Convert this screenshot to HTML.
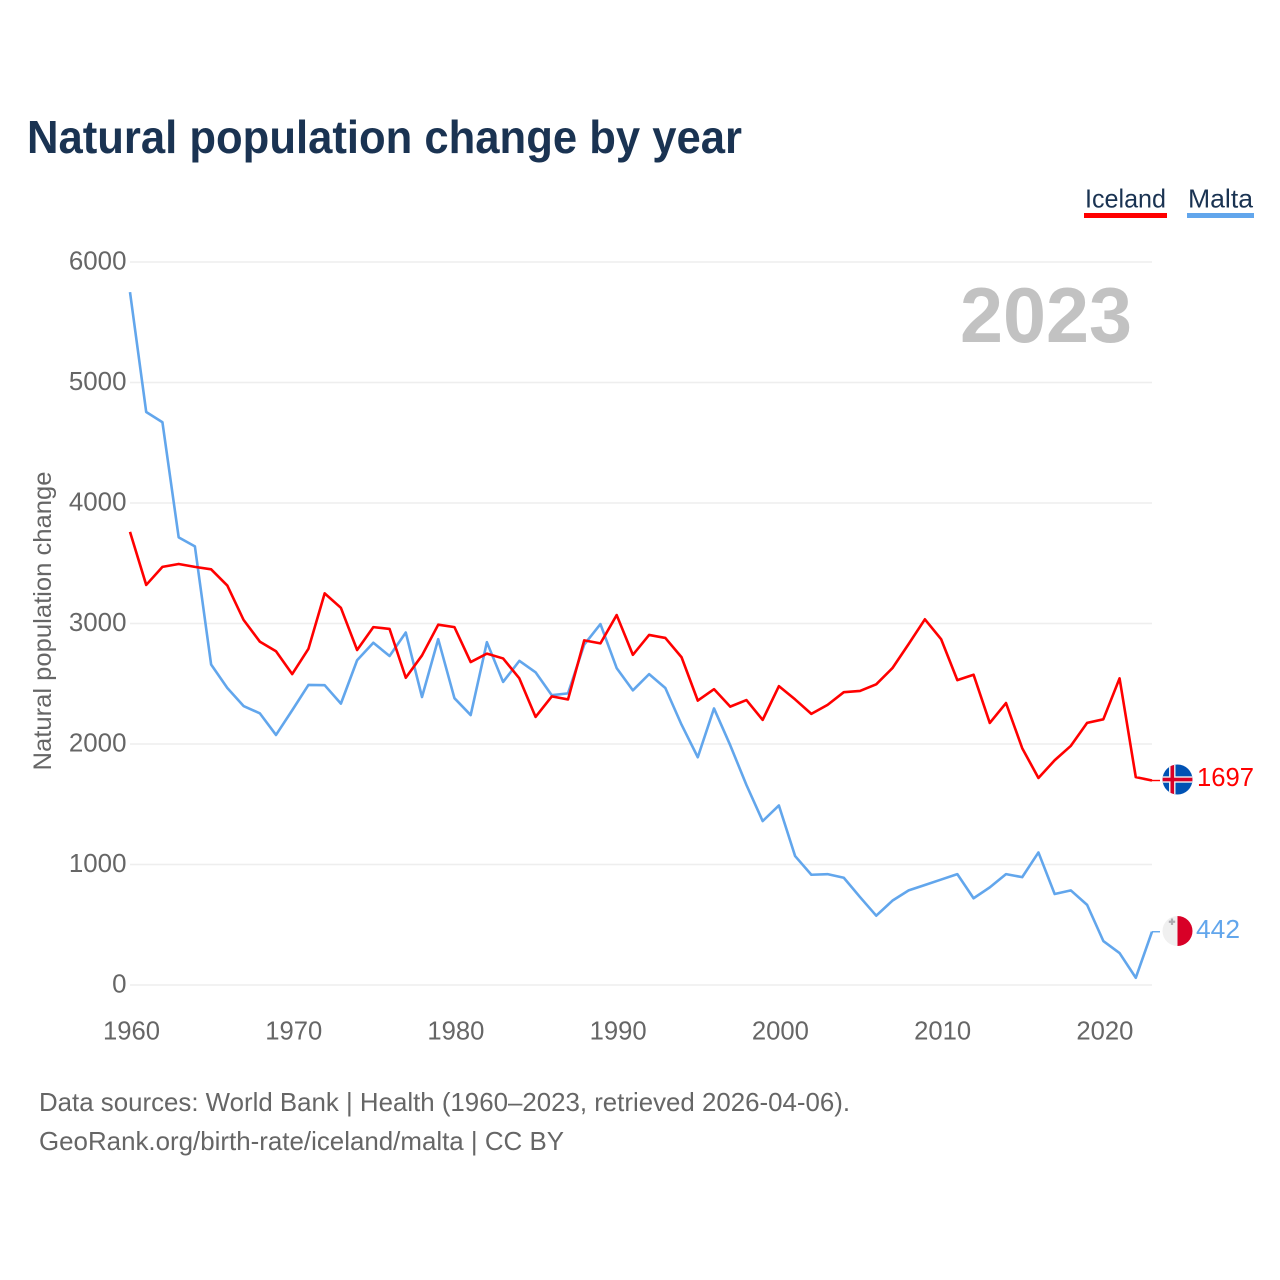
<!DOCTYPE html>
<html lang="en">
<head>
<meta charset="utf-8">
<title>Natural population change by year</title>
<style>
html,body{margin:0;padding:0;background:#fff;width:1280px;height:1280px;overflow:hidden}
svg{display:block;font-family:"Liberation Sans",sans-serif}
</style>
</head>
<body>
<svg id="chart" xmlns="http://www.w3.org/2000/svg" width="1280" height="1280" viewBox="0 0 1280 1280">
  <defs>
    <clipPath id="clip-flag-is"><circle cx="0" cy="0" r="15"/></clipPath>
    <clipPath id="clip-flag-mt"><circle cx="0" cy="0" r="15"/></clipPath>
  </defs>
  <rect width="1280" height="1280" fill="#fff"/>
  <text x="27" y="153" font-size="46" font-weight="700" fill="#1a3352" textLength="715" lengthAdjust="spacingAndGlyphs">Natural population change by year</text>

  <g>
    <g>
      <text x="1085" y="207.5" font-size="26" fill="#1a3352" textLength="81" lengthAdjust="spacingAndGlyphs">Iceland</text>
      <rect x="1084" y="213" width="83" height="5" fill="#ff0000"/>
    </g>
    <g>
      <text x="1188" y="207.5" font-size="26" fill="#1a3352" textLength="65" lengthAdjust="spacingAndGlyphs">Malta</text>
      <rect x="1187" y="213" width="67" height="5" fill="#62a6ec"/>
    </g>
  </g>

  <g id="grid"></g>
  <g id="y-ticks"></g>
  <g id="x-ticks"></g>

  <text x="960" y="342" font-size="78" font-weight="700" fill="#c2c2c2" textLength="172" lengthAdjust="spacingAndGlyphs">2023</text>
  <text transform="translate(51 621) rotate(-90)" text-anchor="middle" font-size="25" fill="#666" textLength="299" lengthAdjust="spacingAndGlyphs">Natural population change</text>

  <g id="series"></g>

  <g id="flag-iceland">
    <g clip-path="url(#clip-flag-is)">
      <rect x="-15" y="-15" width="30" height="30" fill="#0052b4"/>
      <rect x="-8.5" y="-15" width="6.5" height="30" fill="#f0f0f0"/>
      <rect x="-15" y="-3.2" width="30" height="6.4" fill="#f0f0f0"/>
      <rect x="-7" y="-15" width="3.6" height="30" fill="#d80027"/>
      <rect x="-15" y="-1.8" width="30" height="3.6" fill="#d80027"/>
    </g>
  </g>
  <g id="flag-malta">
    <g clip-path="url(#clip-flag-mt)">
      <rect x="-15" y="-15" width="15" height="30" fill="#f0f0f0"/>
      <rect x="0" y="-15" width="15" height="30" fill="#d80027"/>
      <rect x="-6.6" y="-12.5" width="2.2" height="6.4" fill="#acabb1"/>
      <rect x="-8.7" y="-10.4" width="6.4" height="2.2" fill="#acabb1"/>
    </g>
  </g>

  <text id="value-iceland" x="1197" font-size="25.5" fill="#ff0000" textLength="57" lengthAdjust="spacingAndGlyphs"></text>
  <text id="value-malta" x="1196" font-size="25.5" fill="#62a6ec" textLength="44" lengthAdjust="spacingAndGlyphs"></text>

  <text x="39" y="1111" font-size="26" fill="#666" textLength="811" lengthAdjust="spacingAndGlyphs">Data sources: World Bank | Health (1960–2023, retrieved 2026-04-06).</text>
  <text x="39" y="1150" font-size="26" fill="#666" textLength="525" lengthAdjust="spacingAndGlyphs">GeoRank.org/birth-rate/iceland/malta | CC BY</text>
</svg>

<script>
const firstYear = 1960;
const xTickYears = [1960, 1970, 1980, 1990, 2000, 2010, 2020];
const yTickValues = [0, 1000, 2000, 3000, 4000, 5000, 6000];
const icelandValues = [3760,3320,3470,3494,3470,3450,3315,3030,2850,2770,2580,2790,3250,3130,2780,2970,2955,2550,2735,2990,2970,2680,2750,2710,2545,2225,2395,2370,2860,2835,3070,2740,2905,2880,2720,2360,2455,2310,2365,2200,2480,2370,2250,2325,2430,2440,2495,2630,2830,3035,2870,2530,2575,2175,2340,1965,1718,1865,1985,2175,2205,2545,1725,1697];
const maltaValues = [5750,4755,4670,3715,3640,2660,2465,2315,2255,2075,2280,2490,2488,2335,2695,2840,2730,2925,2390,2870,2380,2240,2845,2515,2690,2595,2405,2420,2825,2995,2630,2445,2580,2465,2160,1890,2295,1990,1660,1360,1490,1070,915,920,890,730,575,700,785,830,875,920,720,810,920,895,1100,755,785,665,365,265,60,442];

const NS = 'http://www.w3.org/2000/svg';
const plotLeft = 130, plotRight = 1152, plotTop = 262, plotBottom = 985;
const lastYear = firstYear + icelandValues.length - 1;
function xScale(year) {
  return plotLeft + (year - firstYear) / (lastYear - firstYear) * (plotRight - plotLeft);
}
function yScale(value) {
  return plotBottom - value / 6000 * (plotBottom - plotTop);
}
function make(tag, attrs, parent, text) {
  const el = document.createElementNS(NS, tag);
  Object.keys(attrs).forEach(function (k) { el.setAttribute(k, attrs[k]); });
  if (text !== undefined) el.textContent = text;
  parent.appendChild(el);
  return el;
}

const gridGroup = document.getElementById('grid');
const yTickGroup = document.getElementById('y-ticks');
yTickValues.forEach(function (v) {
  const line = make('line', {x1: plotLeft, x2: plotRight, y1: yScale(v), y2: yScale(v), stroke: '#eeeeee', 'stroke-width': 1.6}, gridGroup);
  
  
  const label = String(v);
  const tick = make('text', {x: 126.5, y: yScale(v) + 7.5, 'text-anchor': 'end', 'font-size': 25.5, fill: '#666', textLength: label.length * 14.4, lengthAdjust: 'spacingAndGlyphs'}, yTickGroup, label);
  
  
});

const xTickGroup = document.getElementById('x-ticks');
xTickYears.forEach(function (year) {
  const tick = make('text', {x: xScale(year) + 1.5, y: 1039.5, 'text-anchor': 'middle', 'font-size': 25.5, fill: '#666', textLength: 57, lengthAdjust: 'spacingAndGlyphs'}, xTickGroup, String(year));
  
  
});

function linePath(values) {
  return values.map(function (v, i) {
    return (i ? 'L' : 'M') + xScale(firstYear + i).toFixed(2) + ' ' + yScale(v).toFixed(2);
  }).join(' ');
}
const seriesGroup = document.getElementById('series');

const maltaLine = make('path', {d: linePath(maltaValues), fill: 'none', stroke: '#62a6ec', 'stroke-width': 2.6, 'stroke-linejoin': 'round'}, seriesGroup);



const icelandLine = make('path', {d: linePath(icelandValues), fill: 'none', stroke: '#ff0000', 'stroke-width': 2.6, 'stroke-linejoin': 'round'}, seriesGroup);



const icelandLast = icelandValues[icelandValues.length - 1];
const maltaLast = maltaValues[maltaValues.length - 1];

const icelandLeader = make('line', {x1: plotRight, x2: plotRight + 8, y1: yScale(icelandLast), y2: yScale(icelandLast), stroke: '#ff0000', 'stroke-width': 1.4}, seriesGroup);



const maltaLeader = make('line', {x1: plotRight, x2: plotRight + 8, y1: yScale(maltaLast), y2: yScale(maltaLast), stroke: '#62a6ec', 'stroke-width': 1.4}, seriesGroup);



document.getElementById('flag-iceland').setAttribute('transform', 'translate(1177.5 ' + (yScale(icelandLast) - 1) + ')');
document.getElementById('flag-malta').setAttribute('transform', 'translate(1177.5 ' + (yScale(maltaLast) - 0.7) + ')');

const icelandValueText = document.getElementById('value-iceland');
icelandValueText.textContent = String(icelandLast);
icelandValueText.setAttribute('y', yScale(icelandLast) + 5.5);

const maltaValueText = document.getElementById('value-malta');
maltaValueText.textContent = String(maltaLast);
maltaValueText.setAttribute('y', yScale(maltaLast) + 6.3);
</script>
</body>
</html>
